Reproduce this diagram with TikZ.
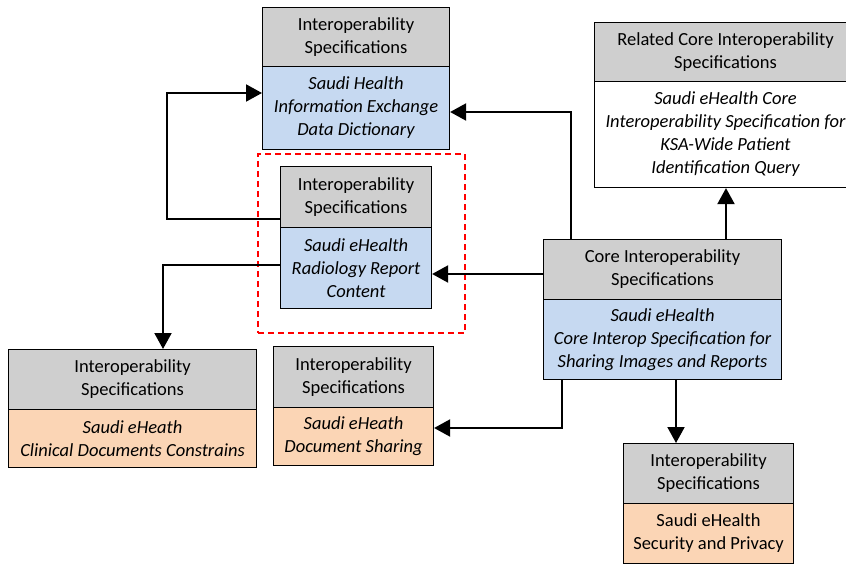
\documentclass[tikz,border=0pt]{standalone}
\usepackage{fontspec}
\setmainfont{Carlito}
\usetikzlibrary{arrows.meta,calc}
\definecolor{hdr}{HTML}{CFCFCF}
\definecolor{blu}{HTML}{C6D9F1}
\definecolor{pch}{HTML}{FBD5B5}
\definecolor{redd}{HTML}{FF0000}
\begin{document}
\begin{tikzpicture}[x=1pt,y=-1pt,
  box/.style={draw=black, line width=1.1pt, inner sep=0pt, align=center, anchor=north west,
    font=\fontsize{18.5}{23}\selectfont},
  hbox/.style={box, fill=hdr},
  bbox/.style={box, fill=blu, font=\fontsize{18.5}{23}\selectfont\itshape},
  pbox/.style={box, fill=pch, font=\fontsize{18.5}{23}\selectfont\itshape},
  arr/.style={line width=2pt, -{Triangle[length=16pt,width=17pt]}},
  hilite/.style={draw=redd, line width=1.8pt, dash pattern=on 6pt off 4pt}]
\useasboundingbox (0,0) rectangle (846,564);
% A
\node[hbox, minimum width=187pt, minimum height=59pt] (A1) at (262,7) {Interoperability\\Specifications};
\node[bbox, minimum width=187pt, minimum height=83pt] (A2) at (262,66) {Saudi Health\\Information Exchange\\Data Dictionary};
% B
\node[hbox, minimum width=151pt, minimum height=61pt] (B1) at (280,166) {Interoperability\\Specifications};
\node[bbox, minimum width=151pt, minimum height=81pt] (B2) at (280,227) {Saudi eHealth\\Radiology Report\\Content};
\node[hilite, inner sep=0pt, anchor=north west, minimum width=207pt, minimum height=179pt] (R) at (257,153) {};
% C
\node[hbox, minimum width=262pt, minimum height=59pt] (C1) at (594,22) {Related Core Interoperability\\Specifications};
\node[box, fill=white, font=\fontsize{18.5}{23}\selectfont\itshape, minimum width=262pt, minimum height=106pt] (C2) at (594,81) {Saudi eHealth Core\\Interoperability Specification for\\KSA-Wide Patient\\Identification Query};
% D
\node[hbox, minimum width=238pt, minimum height=60pt] (D1) at (543,239) {Core Interoperability\\Specifications};
\node[bbox, minimum width=238pt, minimum height=80pt] (D2) at (543,299) {Saudi eHealth\\Core Interop Specification for\\Sharing Images and Reports};
% E
\node[hbox, minimum width=248pt, minimum height=60pt] (E1) at (8,349) {Interoperability\\Specifications};
\node[pbox, minimum width=248pt, minimum height=58pt] (E2) at (8,409) {Saudi eHeath\\Clinical Documents Constrains};
% F
\node[hbox, minimum width=160pt, minimum height=61pt] (F1) at (273,346) {Interoperability\\Specifications};
\node[pbox, minimum width=160pt, minimum height=58pt] (F2) at (273,407) {Saudi eHeath\\Document Sharing};
% G
\node[hbox, minimum width=170pt, minimum height=60pt] (G1) at (623,443) {Interoperability\\Specifications};
\node[box, fill=pch, minimum width=170pt, minimum height=60pt] (G2) at (623,503) {Saudi eHealth\\Security and Privacy};
% connectors
\draw[arr] (B1.west |- 0,219) -- (167,219) -- (167,93) -- (A2.west |- 0,93);
\draw[arr] (B2.west |- 0,265) -| (E1.north -| 163,0);
\draw[arr] (D1.north -| 571,0) |- (A2.east |- 0,112);
\draw[arr] (D1.west |- 0,274) -- (B2.east |- 0,274);
\draw[arr] (D1.north -| 726,0) -- (C2.south -| 726,0);
\draw[arr] (D2.south -| 562,0) |- (F2.east |- 0,428);
\draw[arr] (D2.south -| 676,0) -- (G1.north -| 676,0);
\end{tikzpicture}
\end{document}
